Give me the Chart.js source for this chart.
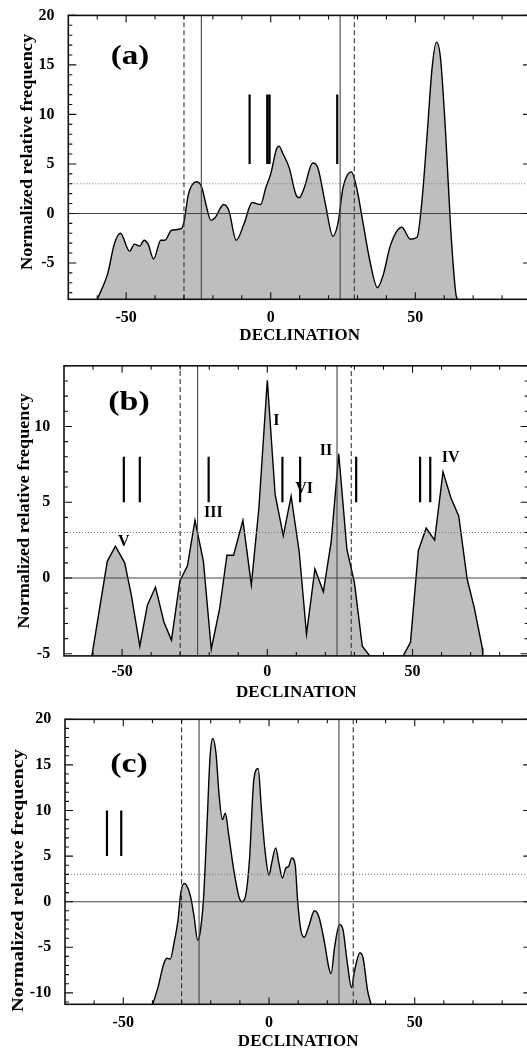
<!DOCTYPE html>
<html>
<head>
<meta charset="utf-8">
<script src="https://cdn.jsdelivr.net/npm/chart.js@4.4.1/dist/chart.umd.min.js"></script>
<style>
  html, body { margin: 0; padding: 0; background: #fff; width: 527px; height: 1051px; overflow: hidden; }
  canvas { position: absolute; left: 0; }
</style>
</head>
<body>
<canvas id="panelA"></canvas>
<canvas id="panelB"></canvas>
<canvas id="panelC"></canvas>
<script>
// shared x axis and reference lines (declination, degrees)
const xRange = [-70, 90];
const tropics = [-24, 24];
const lunarLimits = [-30, 28.9];
const threshold = 3;

// panel (a)
const declA = [-60, -56.4, -54.1, -52, -48.8, -47.1, -45.3, -43.8, -42.4, -40.5, -38, -36.6, -34.3, -30.8, -29.9,
  -28.5, -25.6, -23.8, -22.4, -20.7, -19.2, -16.3, -14.5, -11.9, -9.3, -6.4, -3.5, -1.7, 0, 2, 2.9, 4.1, 6.4, 8.7,
  9.9, 11.6, 14.5, 16.3, 19, 21.5, 23.3, 25, 27.9, 29.7, 32, 34.3, 36.9, 39, 41.3, 45.3, 48.3, 50.6, 52.3, 54.1,
  55.8, 57.3, 58.7, 60.5, 62.2, 64, 64.5];
const freqA = [-8.67, -6.1, -3.1, -2.0, -3.8, -3.1, -3.3, -2.7, -3.1, -4.6, -2.7, -2.7, -1.7, -1.5, -0.7,
  1.9, 3.2, 2.6, 0.9, -0.7, -0.4, 0.9, 0.3, -2.7, -1.1, 1.1, 0.9, 2.6, 4.0, 6.5, 6.8, 6.1, 4.6, 1.9,
  1.6, 2.6, 5.1, 4.6, 0.8, -2.3, -0.9, 2.6, 4.2, 2.6, -1.1, -4.8, -7.5, -6.1, -3.3, -1.4, -2.6, -2.4, 1.3, 8.0,
  14.7, 17.3, 15.7, 8.0, -1.4, -8.1, -8.67];
const yRangeA = [-8.67, 20];
const marksA = [-7.3, -1.2, -0.4, 23.0];
const markSpanA = [5, 12];

// panel (b)
const declB = [-60.4, -55.1, -52.3, -49.1, -46.8, -43.9, -41.3, -38.5, -35.6, -33, -30.1, -27.5, -24.9, -22, -19.3,
  -16.4, -13.9, -11.6, -8.4, -5.5, -2.9, 0, 2.7, 5.5, 8.2, 11, 13.5, 16.4, 19.3, 22, 24.6, 27.4, 30, 32.7, 35.3,
  46.8, 49.3, 52, 54.7, 57.6, 60.5, 63.2, 65.9, 68.8, 71.3, 74, 74.2];
const freqB = [-5.14, 1.1, 2.1, 1.0, -1.15, -4.5, -1.8, -0.6, -2.9, -4.1, -0.2, 0.8, 3.8, 1.1, -4.7,
  -2.0, 1.5, 1.5, 3.8, -0.45, 4.6, 13.05, 5.5, 2.8, 5.4, 1.7, -3.7, 0.6, -0.9, 2.4, 8.2, 1.9, -0.3, -4.5, -5.14,
  -5.14, -4.25, 1.8, 3.3, 2.5, 7.0, 5.3, 4.1, -0.05, -2.0, -4.6, -5.14];
const yRangeB = [-5.14, 14];
const marksB = [-49.4, -43.9, -20.2, 5.2, 11.3, 30.6, 52.6, 56.1];
const markSpanB = [5, 8];
const romanText = ['I', 'II', 'III', 'IV', 'V', 'VI'];
const romanX = [3.1, 20.2, -18.6, 63.1, -49.4, 12.7];
const romanY = [10.4, 8.4, 4.3, 7.9, 2.4, 5.9];

// panel (c)
const declC = [-39.9, -38.1, -36.1, -35.0, -33.9, -32.4, -31.2, -30.3, -29.1, -28.3, -26.8, -25.7, -24.5, -23.7,
  -22.5, -21.4, -20.2, -19.3, -18.2, -17.1, -16.0, -15.0, -13.9, -12.1, -10.2, -9.3, -8.1, -6.7, -5.2, -3.7, -2.6,
  -1.4, 0.0, 0.9, 2.3, 3.4, 4.6, 5.8, 6.7, 7.8, 9.0, 9.8, 10.9, 12.1, 13.6, 15.6, 17.1, 19.0, 20.5, 21.3, 22.5,
  24.2, 25.4, 26.9, 28.3, 29.4, 31.2, 32.3, 33.8, 35.0];
const freqC = [-11.25, -9.4, -6.8, -6.2, -6.3, -4.2, -2.0, 0.9, 2.0, 1.8, 0.4, -1.65, -4.2, -3.5,
  0.2, 7.5, 16.0, 17.9, 16.3, 11.6, 9.0, 9.7, 7.5, 3.5, 0.4, 0, 0.55, 4.6, 13.4, 14.6, 10.1,
  5.7, 2.9, 4.2, 5.9, 4.2, 2.6, 3.7, 3.85, 4.8, 4.0, 0.2, -3.1, -3.9, -2.75, -1.0, -1.65, -4.4, -7.2, -7.9, -5.0,
  -2.5, -3.1, -6.8, -9.4, -7.5, -5.6, -6.2, -9.7, -11.25];
const yRangeC = [-11.25, 20];
const marksC = [-55.6, -50.7];
const markSpanC = [5, 10];

const FONT = "'Liberation Serif', 'Times New Roman', serif";
const CANVAS_W = 545;

const panels = [
  { id: 'panelA', top: 0, height: 350, area: { left: 68.3, right: 531, top: 12.7, bottom: 299.3 },
    tickPad: 0.8, xTitleY: 335.8, yTitle: { x: 28, y: 152, len: 236 }, letter: { text: '(a)', x: 130, y: 57, w: 38.6 },
    decl: declA, freq: freqA, yRange: yRangeA, marks: marksA, markSpan: markSpanA, smooth: true, romans: false },
  { id: 'panelB', top: 350, height: 356, area: { left: 64, right: 528.7, top: 365.8, bottom: 655.9 },
    tickPad: -1.2, xTitleY: 693, yTitle: { x: 24.4, y: 511, len: 235 }, letter: { text: '(b)', x: 129, y: 403, w: 41.4 },
    decl: declB, freq: freqB, yRange: yRangeB, marks: marksB, markSpan: markSpanB, smooth: false, romans: true },
  { id: 'panelC', top: 700, height: 356, area: { left: 65, right: 531.3, top: 719.3, bottom: 1004.3 },
    tickPad: 1.4, xTitleY: 1041.7, yTitle: { x: 18.5, y: 880.5, len: 263 }, letter: { text: '(c)', x: 129, y: 765, w: 37.6 },
    decl: declC, freq: freqC, yRange: yRangeC, marks: marksC, markSpan: markSpanC, smooth: true, romans: false }
];

function segments(xs, y0, y1) {
  const pts = [];
  xs.forEach(x => { pts.push({ x, y: y0 }, { x, y: y1 }, { x, y: null }); });
  return pts;
}

function fitText(ctx, text, cx, cy, font, width, rot) {
  ctx.save();
  ctx.font = font;
  ctx.textAlign = 'center';
  ctx.textBaseline = 'middle';
  const w = ctx.measureText(text).width;
  ctx.translate(cx, cy);
  ctx.rotate(rot);
  ctx.scale(width / w, 1);
  ctx.fillText(text, 0, 0);
  ctx.restore();
}

const decoPlugin = {
  id: 'deco',
  afterDatasetsDraw(chart, args, opts) {
    const { ctx, chartArea: a, scales: { x, y } } = chart;
    const p = opts.panel;
    ctx.save();
    ctx.strokeStyle = '#111';
    ctx.lineWidth = 1.1;
    ctx.beginPath();
    for (let v = -60; v <= 80; v += 10) {
      const px = x.getPixelForValue(v);
      const len = v % 50 === 0 ? 7 : 4;
      ctx.moveTo(px, a.bottom); ctx.lineTo(px, a.bottom - len);
      ctx.moveTo(px, a.top); ctx.lineTo(px, a.top + len);
    }
    for (let v = Math.ceil(y.min); v <= Math.floor(y.max); v++) {
      const py = y.getPixelForValue(v);
      const len = v % 5 === 0 ? 8 : 4;
      ctx.moveTo(a.left, py); ctx.lineTo(a.left + len, py);
      ctx.moveTo(a.right, py); ctx.lineTo(a.right - len, py);
    }
    ctx.stroke();
    ctx.lineWidth = 1.6;
    ctx.strokeRect(a.left, a.top, a.right - a.left, a.bottom - a.top);

    ctx.fillStyle = '#000';
    fitText(ctx, 'Normalized relative frequency', p.yTitle.x, p.yTitle.y - p.top,
      'bold 17px ' + FONT, p.yTitle.len, -Math.PI / 2);
    fitText(ctx, p.letter.text, p.letter.x, p.letter.y - p.top, 'bold 28px ' + FONT, p.letter.w, 0);

    if (p.romans) {
      ctx.font = 'bold 16px ' + FONT;
      ctx.textAlign = 'center';
      ctx.textBaseline = 'middle';
      romanText.forEach((t, i) => {
        ctx.fillText(t, x.getPixelForValue(romanX[i]), y.getPixelForValue(romanY[i]));
      });
    }
    ctx.restore();
  }
};

panels.forEach(p => {
  const cv = document.getElementById(p.id);
  cv.width = CANVAS_W;
  cv.height = p.height;
  cv.style.top = p.top + 'px';
  cv.style.width = CANVAS_W + 'px';
  cv.style.height = p.height + 'px';

  const [yMin, yMax] = p.yRange;
  const titleSize = 17;
  const titlePadBottom = (p.top + p.height) - p.xTitleY - titleSize * 1.2 / 2;

  const curve = p.decl.map((d, i) => ({ x: d, y: p.freq[i] }));

  new Chart(cv.getContext('2d'), {
    type: 'line',
    data: {
      datasets: [
        { data: segments(p.marks, p.markSpan[0], p.markSpan[1]), borderColor: '#000', borderWidth: 2.2, order: 0 },
        { data: segments(tropics, yMin, yMax), borderColor: '#444', borderWidth: 1.1, order: 1 },
        { data: segments(lunarLimits, yMin, yMax), borderColor: '#333', borderWidth: 1.1, borderDash: [5, 3], order: 1 },
        { data: [{ x: xRange[0], y: 0 }, { x: xRange[1], y: 0 }], borderColor: '#444', borderWidth: 1.1, order: 2 },
        { data: [{ x: xRange[0], y: threshold }, { x: xRange[1], y: threshold }], borderColor: '#777',
          borderWidth: 1, borderDash: [1, 2], order: 2 },
        { data: curve, borderColor: '#000', borderWidth: 1.4, backgroundColor: '#bebebe', fill: 'start',
          tension: p.smooth ? 0.4 : 0, cubicInterpolationMode: p.smooth ? 'monotone' : 'default', order: 10 }
      ]
    },
    options: {
      responsive: false,
      animation: false,
      events: [],
      devicePixelRatio: 1,
      elements: { point: { radius: 0 }, line: { fill: false } },
      layout: { padding: { left: 0, top: p.area.top - p.top, right: CANVAS_W - p.area.right, bottom: 0 } },
      plugins: { legend: { display: false }, tooltip: { enabled: false }, deco: { panel: p } },
      scales: {
        x: {
          type: 'linear',
          min: xRange[0], max: xRange[1],
          grid: { display: false },
          border: { display: false },
          ticks: { stepSize: 50, includeBounds: false, maxRotation: 0, autoSkip: false, padding: p.tickPad,
            color: '#000', font: { family: FONT, size: 16, weight: 'bold' } },
          title: { display: true, text: 'DECLINATION', color: '#000',
            font: { family: FONT, size: titleSize, weight: 'bold' }, padding: { top: 0, bottom: titlePadBottom } },
          afterFit(scale) { scale.height = (p.top + p.height) - p.area.bottom; }
        },
        y: {
          min: yMin, max: yMax,
          grid: { display: false },
          border: { display: false },
          ticks: { stepSize: 5, includeBounds: false, padding: 5.8, color: '#000',
            font: { family: FONT, size: 16, weight: 'bold' } },
          afterFit(scale) { scale.width = p.area.left; }
        }
      }
    },
    plugins: [decoPlugin]
  });
});
</script>
</body>
</html>
